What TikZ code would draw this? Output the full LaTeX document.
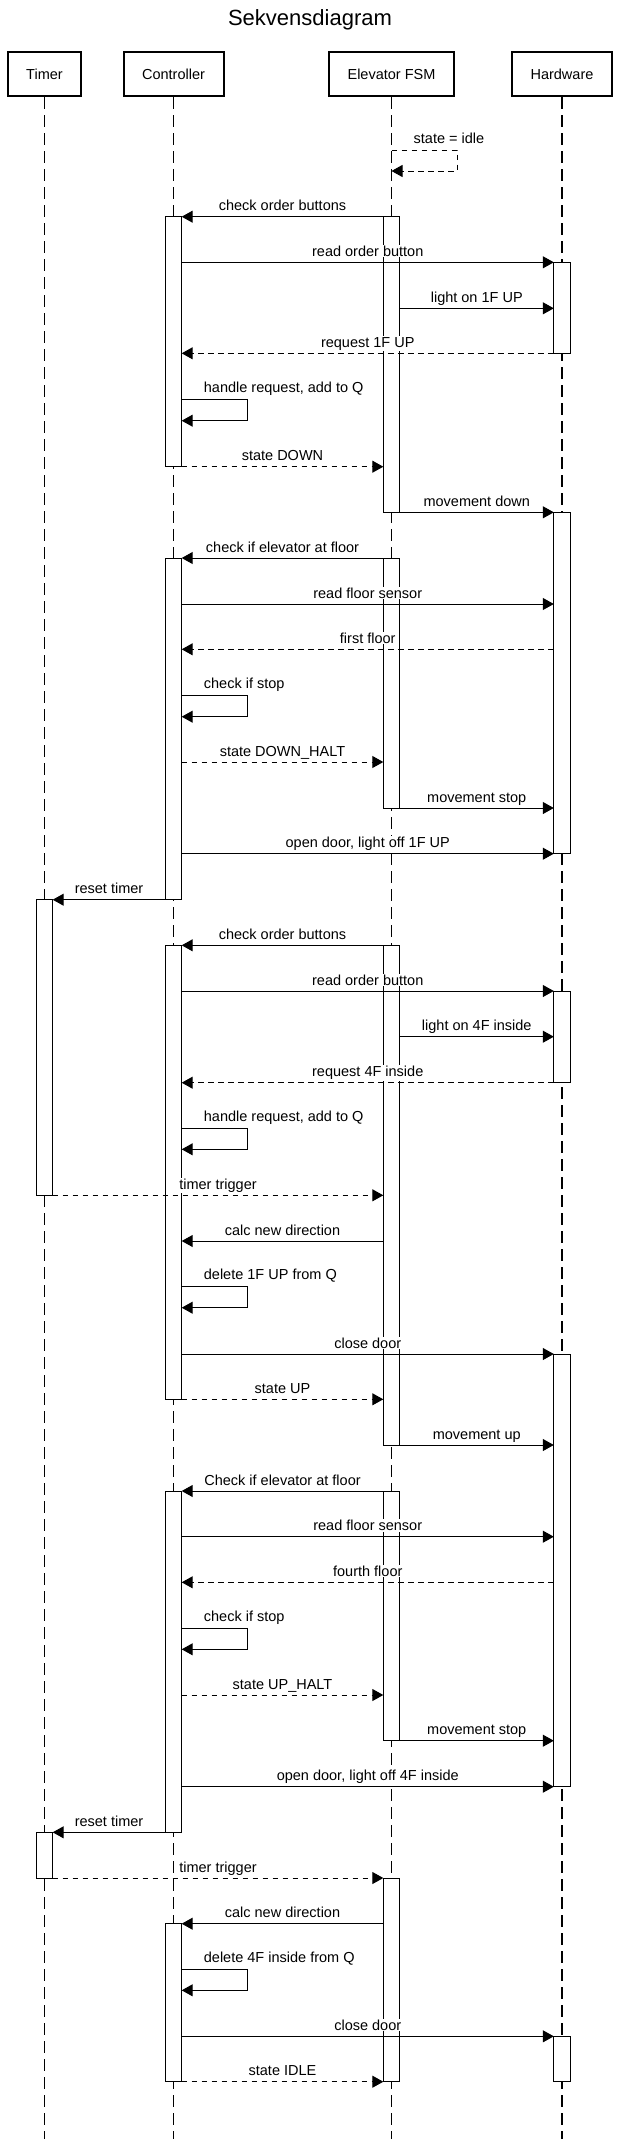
\documentclass[tikz,border=0pt]{standalone}
\usepackage{fontspec}
\setmainfont{Liberation Sans}
\usetikzlibrary{arrows.meta,fit,calc}
\tikzset{
  every node/.style={font=\fontsize{14.5}{17}\selectfont},
  head/.style={draw,line width=2pt,minimum height=44pt,inner sep=0pt},
  life/.style={line width=1.3pt,dash pattern=on 12pt off 6pt},
  act/.style={draw,fill=white,line width=1pt,inner sep=0pt,outer sep=0pt},
  msg/.style={line width=1pt,-{Triangle[length=11pt,width=12pt]}},
  reply/.style={msg,dash pattern=on 5.5pt off 4.5pt},
  lbl/.style={fill=white,inner sep=1pt,anchor=base,yshift=6pt},
  selflbl/.style={fill=white,inner sep=1pt,anchor=base west,xshift=21pt,yshift=7pt},
}

\begin{document}
\begin{tikzpicture}[x=1pt,y=-1pt]
\useasboundingbox (0,0) rectangle (619,2139);
\node[font=\fontsize{22}{26}\selectfont,anchor=base] (title) at (310,25) {Sekvensdiagram};
\node[head,minimum width=73pt] (timer) at (44.5,74) {Timer};
\node[head,minimum width=100pt] (ctrl) at (173.5,74) {Controller};
\node[head,minimum width=125pt] (fsm) at (391.5,74) {Elevator FSM};
\node[head,minimum width=100pt] (hw) at (562,74) {Hardware};
\coordinate (bottom) at (0,2139);
\foreach \who in {timer,ctrl,fsm,hw}
  \draw[life] (\who.south) -- (\who |- bottom);
\foreach \n/\y in {1/150,2/216.7,3/262.3,4/308.3,5/353.3,6/399.7,7/466.7,8/512.3,9/558,10/604,
  11/649.3,12/695.7,13/762,14/808,15/853.7,16/899.7,17/945.3,18/991,19/1036.7,20/1082.7,
  21/1128.3,22/1195.3,23/1241,24/1286.7,25/1354,26/1399.3,27/1445,28/1491,29/1536.7,30/1582.3,
  31/1628.3,32/1695,33/1740.7,34/1786.7,35/1832.3,36/1878,37/1923.7,38/1969.3,39/2036.3,40/2081.7}
  \coordinate (m\n) at (0,\y);
\foreach \nm/\who/\a/\b in {c1/ctrl/2/7,c2/ctrl/9/16,c3/ctrl/17/26,c4/ctrl/28/35,c5/ctrl/37/40,
  f1/fsm/2/8,f2/fsm/9/14,f3/fsm/17/27,f4/fsm/28/33,f5/fsm/36/40,
  h1/hw/3/5,h2/hw/8/15,h3/hw/18/20,h4/hw/25/34,h5/hw/39/40,t1/timer/16/22,t2/timer/35/36}
  \node[act,fit={($(\who |- m\a)+(-8.2,0)$) ($(\who |- m\b)+(8.2,0)$)}] (\nm) {};

\draw[reply] (fsm |- m1) -- ++(65.5,0) |- ($(fsm |- m1)+(0,21)$);
\node[selflbl] (l1) at (fsm |- m1) {state = idle};
\draw[msg] (f1.west |- m2) -- node[lbl] (l2) {check order buttons} (c1.east |- m2);
\draw[msg] (c1.east |- m3) -- node[lbl] (l3) {read order button} (h1.west |- m3);
\draw[msg] (f1.east |- m4) -- node[lbl] (l4) {light on 1F UP} (h1.west |- m4);
\draw[reply] (h1.west |- m5) -- node[lbl] (l5) {request 1F UP} (c1.east |- m5);
\draw[msg] (c1.east |- m6) -- ++(65.3,0) |- ($(c1.east |- m6)+(0,21)$);
\node[selflbl] (l6) at (c1.east |- m6) {handle request, add to Q};
\draw[reply] (c1.east |- m7) -- node[lbl] (l7) {state DOWN} (f1.west |- m7);
\draw[msg] (f1.east |- m8) -- node[lbl] (l8) {movement down} (h2.west |- m8);
\draw[msg] (f2.west |- m9) -- node[lbl] (l9) {check if elevator at floor} (c2.east |- m9);
\draw[msg] (c2.east |- m10) -- node[lbl] (l10) {read floor sensor} (h2.west |- m10);
\draw[reply] (h2.west |- m11) -- node[lbl] (l11) {first floor} (c2.east |- m11);
\draw[msg] (c2.east |- m12) -- ++(65.3,0) |- ($(c2.east |- m12)+(0,21)$);
\node[selflbl] (l12) at (c2.east |- m12) {check if stop};
\draw[reply] (c2.east |- m13) -- node[lbl] (l13) {state DOWN\_HALT} (f2.west |- m13);
\draw[msg] (f2.east |- m14) -- node[lbl] (l14) {movement stop} (h2.west |- m14);
\draw[msg] (c2.east |- m15) -- node[lbl] (l15) {open door, light off 1F UP} (h2.west |- m15);
\draw[msg] (c2.west |- m16) -- node[lbl] (l16) {reset timer} (t1.east |- m16);
\draw[msg] (f3.west |- m17) -- node[lbl] (l17) {check order buttons} (c3.east |- m17);
\draw[msg] (c3.east |- m18) -- node[lbl] (l18) {read order button} (h3.west |- m18);
\draw[msg] (f3.east |- m19) -- node[lbl] (l19) {light on 4F inside} (h3.west |- m19);
\draw[reply] (h3.west |- m20) -- node[lbl] (l20) {request 4F inside} (c3.east |- m20);
\draw[msg] (c3.east |- m21) -- ++(65.3,0) |- ($(c3.east |- m21)+(0,21)$);
\node[selflbl] (l21) at (c3.east |- m21) {handle request, add to Q};
\draw[reply] (t1.east |- m22) -- node[lbl] (l22) {timer trigger} (f3.west |- m22);
\draw[msg] (f3.west |- m23) -- node[lbl] (l23) {calc new direction} (c3.east |- m23);
\draw[msg] (c3.east |- m24) -- ++(65.3,0) |- ($(c3.east |- m24)+(0,21)$);
\node[selflbl] (l24) at (c3.east |- m24) {delete 1F UP from Q};
\draw[msg] (c3.east |- m25) -- node[lbl] (l25) {close door} (h4.west |- m25);
\draw[reply] (c3.east |- m26) -- node[lbl] (l26) {state UP} (f3.west |- m26);
\draw[msg] (f3.east |- m27) -- node[lbl] (l27) {movement up} (h4.west |- m27);
\draw[msg] (f4.west |- m28) -- node[lbl] (l28) {Check if elevator at floor} (c4.east |- m28);
\draw[msg] (c4.east |- m29) -- node[lbl] (l29) {read floor sensor} (h4.west |- m29);
\draw[reply] (h4.west |- m30) -- node[lbl] (l30) {fourth floor} (c4.east |- m30);
\draw[msg] (c4.east |- m31) -- ++(65.3,0) |- ($(c4.east |- m31)+(0,21)$);
\node[selflbl] (l31) at (c4.east |- m31) {check if stop};
\draw[reply] (c4.east |- m32) -- node[lbl] (l32) {state UP\_HALT} (f4.west |- m32);
\draw[msg] (f4.east |- m33) -- node[lbl] (l33) {movement stop} (h4.west |- m33);
\draw[msg] (c4.east |- m34) -- node[lbl] (l34) {open door, light off 4F inside} (h4.west |- m34);
\draw[msg] (c4.west |- m35) -- node[lbl] (l35) {reset timer} (t2.east |- m35);
\draw[reply] (t2.east |- m36) -- node[lbl] (l36) {timer trigger} (f5.west |- m36);
\draw[msg] (f5.west |- m37) -- node[lbl] (l37) {calc new direction} (c5.east |- m37);
\draw[msg] (c5.east |- m38) -- ++(65.3,0) |- ($(c5.east |- m38)+(0,21)$);
\node[selflbl] (l38) at (c5.east |- m38) {delete 4F inside from Q};
\draw[msg] (c5.east |- m39) -- node[lbl] (l39) {close door} (h5.west |- m39);
\draw[reply] (c5.east |- m40) -- node[lbl] (l40) {state IDLE} (f5.west |- m40);
\end{tikzpicture}
\end{document}
